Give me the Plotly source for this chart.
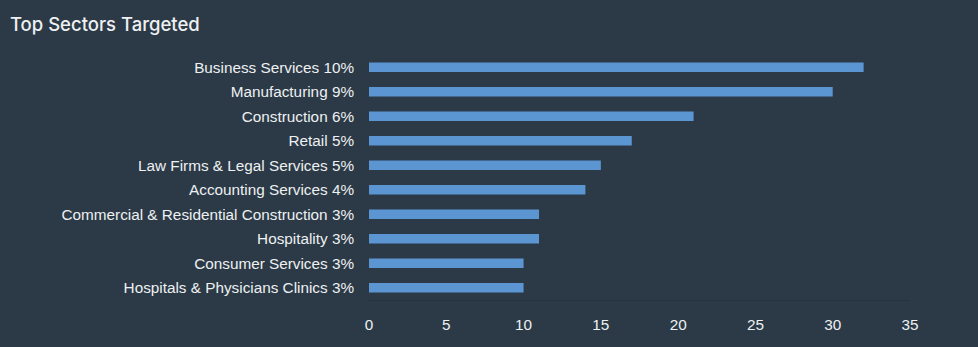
import plotly.graph_objects as go

# Sector labels (top to bottom) and counts of targeted organisations
sectors = [
    "Business Services 10%",
    "Manufacturing 9%",
    "Construction 6%",
    "Retail 5%",
    "Law Firms & Legal Services 5%",
    "Accounting Services 4%",
    "Commercial & Residential Construction 3%",
    "Hospitality 3%",
    "Consumer Services 3%",
    "Hospitals & Physicians Clinics 3%",
]
counts = [32, 30, 21, 17, 15, 14, 11, 11, 10, 10]
x_ticks = [0, 5, 10, 15, 20, 25, 30, 35]

BG = "#2b3a46"
BAR = "#5b96d3"
TEXT = "#eef0f2"

fig = go.Figure(
    go.Bar(
        x=counts,
        y=sectors,
        orientation="h",
        marker=dict(color=BAR, line=dict(width=0)),
        hoverinfo="x+y",
    )
)

fig.update_layout(
    width=978,
    height=347,
    paper_bgcolor=BG,
    plot_bgcolor=BG,
    margin=dict(l=369, r=68, t=55, b=47),
    bargap=0.62,
    showlegend=False,
    title=dict(
        text="Top Sectors Targeted",
        x=0.0102,
        xanchor="left",
        y=0.93,
        yanchor="middle",
        font=dict(family="Inter, Lato, sans-serif", size=18.5, color=TEXT, weight=500),
    ),
    font=dict(family="Liberation Sans, Arial, sans-serif", size=15.3, color=TEXT),
)

fig.update_xaxes(
    range=[0, 35],
    tickvals=x_ticks,
    showgrid=False,
    zeroline=False,
    showline=True,
    linecolor="#26333e",
    linewidth=1,
    ticks="",
    ticklabelstandoff=11,
    tickfont=dict(size=15.3, color=TEXT),
    fixedrange=True,
)

fig.update_yaxes(
    categoryorder="array",
    categoryarray=list(reversed(sectors)),
    showgrid=False,
    zeroline=False,
    showline=False,
    ticks="",
    ticklabelstandoff=14,
    tickfont=dict(size=15.3, color=TEXT),
    fixedrange=True,
)

fig.write_html("out.html")
